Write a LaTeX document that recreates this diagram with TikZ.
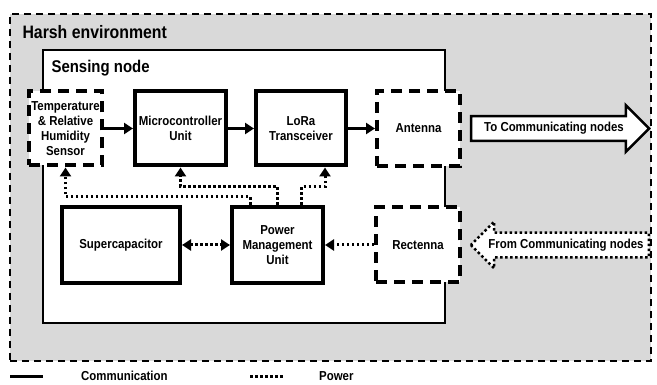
\documentclass[tikz,border=0pt]{standalone}
\usepackage{fontspec}
\setmainfont{Liberation Sans}[FakeStretch=0.88]
\usetikzlibrary{arrows.meta,positioning,shapes.arrows}
\definecolor{harshgray}{RGB}{217,217,217}

\begin{document}
\begin{tikzpicture}[
      x=1pt, y=-1pt,
      >={Triangle[length=9pt,width=11pt]},
      font=\bfseries\fontsize{13}{15}\selectfont,
      block/.style={
        draw,
        line width=4pt,
        fill=white,
        align=center,
        inner sep=0pt
      },
      dashblock/.style={block,dash pattern=on 11pt off 7pt},
      comm/.style={->,line width=3pt},
      power/.style={->,line width=3pt,dash pattern=on 2.5pt off 2.5pt},
      bigarrow/.style={
        single arrow,
        draw,
        line width=2.5pt,
        fill=white,
        single arrow head extend=11pt,
        single arrow head indent=0pt,
        inner xsep=2pt,
        inner ysep=5pt,
        text height=9.5pt,
        text depth=2.7pt
      }
    ]
    \useasboundingbox (0,0) rectangle (657,385);

    % areas
    \node[draw,line width=2pt,fill=harshgray,dash pattern=on 7pt off 5pt,
          minimum width=641pt,minimum height=347pt,inner sep=0pt] (harsh) at (330.5,187.5) {};
    \node[anchor=base west,font=\bfseries\fontsize{18}{20}\selectfont] (harshlabel) at (19,39) {Harsh environment};
    \node[draw,line width=2pt,fill=white,
          minimum width=402pt,minimum height=273pt,inner sep=0pt] (sensing) at (244,186.5) {};
    \node[anchor=base west,font=\bfseries\fontsize{17}{19}\selectfont] (sensinglabel) at (48,73) {Sensing node};

    % blocks
    \node[dashblock,minimum width=73pt,minimum height=74pt] (temp) at (65.5,128.5)
      {Temperature\\\& Relative\\Humidity\\Sensor};
    \node[block,minimum width=91pt,minimum height=74pt] (mcu) at (180.5,128.5) {Microcontroller\\Unit};
    \node[block,minimum width=90pt,minimum height=74pt] (lora) at (301,128.5) {LoRa\\Transceiver};
    \node[dashblock,minimum width=83pt,minimum height=75pt] (antenna) at (418.5,128.5) {Antenna};
    \node[block,minimum width=118pt,minimum height=76pt] (supercap) at (121,245) {Supercapacitor};
    \node[block,minimum width=91pt,minimum height=76pt] (pmu) at (277.5,245) {Power\\Management\\Unit};
    \node[dashblock,minimum width=84pt,minimum height=75pt] (rectenna) at (418,245) {Rectenna};

    \node[bigarrow,minimum height=178pt] (tocomm) at (554,128.5) {To Communicating nodes};
    \node[bigarrow,minimum height=178pt,shape border rotate=180,
          dash pattern=on 2.5pt off 2.5pt] (fromcomm) at (566,245) {From Communicating nodes};

    % communication
    \draw[comm] (temp.east) -- (mcu.west);
    \draw[comm] (mcu.east) -- (lora.west);
    \draw[comm] (lora.east) -- (antenna.west);

    % power
    \coordinate (pwrlow) at (0,197);
    \coordinate (pwrhigh) at (0,187);
    \draw[power,<->] (supercap.east) -- (pmu.west);
    \draw[power] (rectenna.west) -- (pmu.east);
    \draw[power] ([xshift=-27.5pt]pmu.north) |- (temp.south |- pwrlow) -- (temp.south);
    \draw[power] (pmu.north) |- (mcu.south |- pwrhigh) -- (mcu.south);
    \draw[power] ([xshift=24pt]pmu.north) |- ([xshift=24pt]lora.south |- pwrhigh) -- ([xshift=24pt]lora.south);

    % legend
    \coordinate (commstart) at (10,376);
    \coordinate (commend) at (43,376);
    \draw[line width=3pt] (commstart) -- (commend);
    \node[anchor=base west,inner sep=1pt] (commlabel) at (80,380.5) {Communication};
    \coordinate (powstart) at (250,376);
    \coordinate (powend) at (283,376);
    \draw[line width=3pt,dash pattern=on 2.5pt off 2.5pt] (powstart) -- (powend);
    \node[anchor=base west,inner sep=1pt] (powlabel) at (318,380.5) {Power};
  \end{tikzpicture}
\end{document}
